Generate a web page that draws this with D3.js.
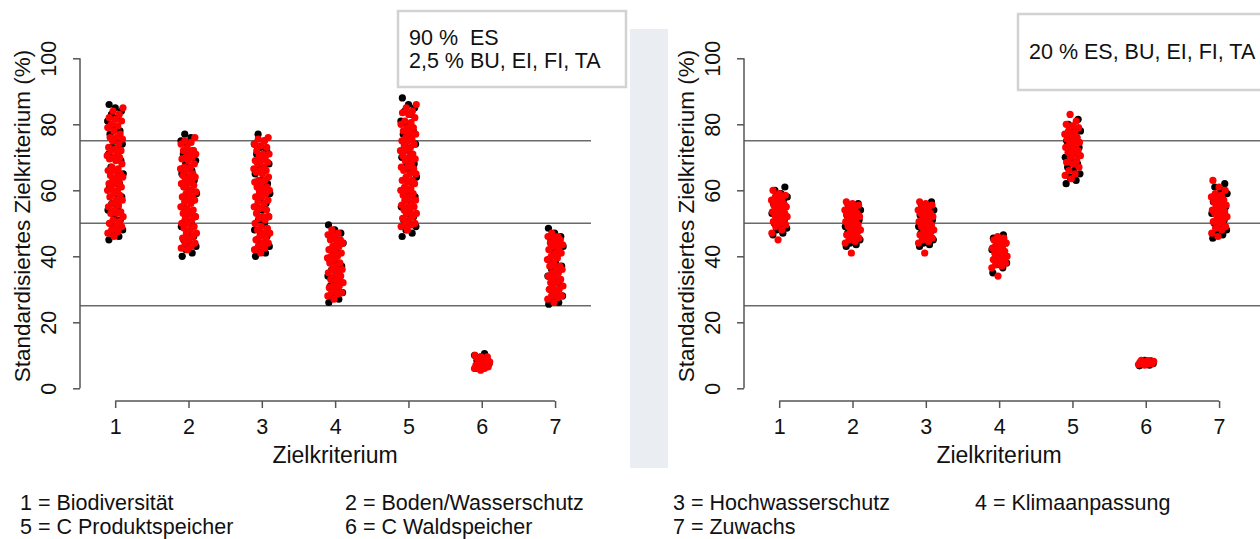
<!DOCTYPE html>
<html>
<head>
<meta charset="utf-8">
<script src="https://cdn.jsdelivr.net/npm/d3@7"></script>
<style>
  body { margin: 0; background: #fff; }
  svg { display: block; font-family: "Liberation Sans", Arial, sans-serif; }
</style>
</head>
<body>
<div id="chart"></div>
<script>
// categories and labels
var categories = [1, 2, 3, 4, 5, 6, 7];
var yTicks = [0, 20, 40, 60, 80, 100];
var refLines = [25, 50, 75];
var legendLeft = ["90 %  ES", "2,5 % BU, EI, FI, TA"];
var legendRight = ["20 % ES, BU, EI, FI, TA"];
var bottomLabels = ["1 = Biodiversität", "2 = Boden/Wasserschutz", "3 = Hochwasserschutz", "4 = Klimaanpassung",
                    "5 = C Produktspeicher", "6 = C Waldspeicher", "7 = Zuwachs"];

// values, one array per Zielkriterium
var leftBlack = [
  [86, 45, 72, 58, 81, 50, 65, 77, 47, 69, 54, 84, 61, 74, 48, 79, 56, 67, 83, 52, 63, 71, 46, 75, 59, 82, 66, 51, 78, 55, 70, 62, 85, 49, 73],
  [77, 41, 63, 52, 70, 46, 58, 74, 43, 66, 55, 40, 68, 49, 61, 75, 44, 57, 72, 50, 64, 42, 69, 53, 60, 76, 47, 65, 51, 71, 45, 59],
  [77, 40, 62, 51, 71, 45, 57, 75, 42, 65, 54, 68, 48, 60, 73, 43, 56, 70, 47, 63, 41, 67, 52, 74, 59, 46, 66, 50, 72, 44, 61, 55],
  [49.5, 26, 38, 31, 44, 28, 35, 47, 33, 41, 27, 37, 45, 30, 42, 34, 48, 29, 39, 36, 46, 32],
  [88, 47, 70, 58, 84, 52, 66, 78, 49, 62, 86, 55, 73, 46, 81, 60, 68, 50, 76, 64, 85, 53, 71, 57, 80, 48, 67, 74, 59, 83, 51, 63, 77, 56, 69],
  [10.5, 6, 8, 9.5, 7, 6.5, 9, 7.5, 10, 8.5],
  [48.5, 26, 37, 31, 44, 28, 35, 46, 33, 41, 25.5, 39, 43, 30, 47, 34, 38, 27, 45, 36, 42, 29]
];
var leftRed = [
  [84, 62, 71, 49, 77, 55, 80, 66, 47, 58, 74, 52, 69, 82, 60, 50, 76, 64, 57, 72, 48, 79, 61, 67, 53, 85, 70, 56, 63, 75, 51, 81, 59, 68, 46, 73, 65, 54, 78, 62, 83, 57, 70, 49, 66, 76, 60, 53, 72, 64,
   58.5, 66.5, 72.5, 50.5, 79.5, 62.5, 55.5, 69.5, 47.5, 75.5, 64.5, 53.5, 81.5, 60.5, 70.5],
  [75, 58, 44, 67, 51, 72, 62, 47, 70, 55, 43, 64, 74, 49, 60, 68, 53, 45, 73, 57, 66, 42, 61, 50, 71, 56, 46, 69, 63, 52, 76, 59, 48, 65, 54, 72, 44, 62, 67, 50, 58, 70, 47, 64, 53,
   45.5, 63.5, 56.5, 69.5, 51.5, 74.5, 59.5, 48.5, 66.5, 42.5, 61.5, 71.5, 54.5, 64.5, 57.5],
  [76, 61, 45, 69, 53, 73, 58, 43, 66, 50, 71, 63, 47, 56, 74, 41, 68, 52, 60, 44, 70, 55, 65, 48, 75, 59, 42, 67, 51, 62, 72, 46, 57, 64, 49, 69, 54, 61, 44, 66, 71, 58, 52, 47, 63,
   42.5, 60.5, 70.5, 54.5, 65.5, 48.5, 73.5, 56.5, 62.5, 45.5, 68.5, 51.5, 75.5, 59.5, 66.5],
  [48, 33, 40, 29, 45, 36, 31, 43, 38, 27, 46, 34, 41, 30, 37, 44, 28, 39, 35, 47, 32, 42, 36, 29, 45, 38, 31, 43, 34, 40,
   30.5, 41.5, 35.5, 46.5, 32.5, 39.5, 44.5, 28.5],
  [86, 63, 72, 50, 79, 57, 83, 67, 53, 75, 60, 48, 70, 81, 55, 65, 77, 51, 62, 84, 58, 73, 49, 68, 80, 54, 64, 76, 52, 71, 59, 85, 66, 56, 78, 61, 74, 50, 69, 82, 57, 63, 75, 53, 67, 79, 60, 72, 55, 65,
   51.5, 69.5, 58.5, 77.5, 62.5, 83.5, 55.5, 73.5, 49.5, 66.5, 80.5, 60.5, 70.5, 53.5, 75.5],
  [8, 6, 9.5, 7, 5.5, 8.5, 10, 6.5, 7.5, 9, 6, 8, 7, 9.5, 6.5],
  [47, 32, 39, 28, 44, 35, 41, 30, 37, 45, 26, 33, 42, 29, 38, 46, 31, 36, 43, 27, 40, 34, 44, 30, 37, 41, 28, 35, 46, 32,
   30.5, 42.5, 36.5, 45.5, 27.5, 39.5, 33.5, 43.5]
];
var rightBlack = [
  [61, 47, 53, 57, 50, 59, 48, 55, 52, 60, 46.5, 54, 58, 49, 56, 51, 53.5, 57.5, 48.5, 55.5],
  [56, 43, 50, 53, 46, 55, 48, 52, 44, 54, 49, 51, 45, 47, 53.5, 50.5, 43.5, 55.5, 47.5, 52.5],
  [56.5, 43, 49, 53, 46, 55, 48, 52, 44, 54, 50, 51, 45, 47, 53.5, 49.5, 43.5, 55.5, 47.5, 52.5],
  [46.5, 35, 41, 38, 44, 36.5, 42, 39, 45, 37.5, 43, 40, 45.5, 38.5, 42.5],
  [81.5, 62, 70, 75, 66, 79, 68, 73, 64, 77, 71, 63, 74, 67, 80, 69, 76, 65, 72, 78],
  [7, 8.5, 7.5, 8, 6.8, 8.3, 7.3, 7.8],
  [62, 45.5, 53, 58, 49, 60, 51, 56, 47, 55, 59, 52, 46.5, 57, 50, 54, 61, 48, 53.5, 56.5]
];
var rightRed = [
  [60, 52, 55, 49, 57, 53, 47, 58, 51, 56, 54, 50, 59, 52.5, 48, 55.5, 53.5, 57.5, 51.5, 45, 56.5, 54.5, 49.5, 58.5, 50.5, 53, 55, 52],
  [56.5, 49, 52, 45, 54, 47, 51, 55, 44, 50, 53, 46, 56, 48, 52.5, 41, 54.5, 49.5, 51.5, 45.5, 55.5, 47.5, 53.5, 50.5, 44.5, 52, 48.5, 46.5],
  [56.5, 50, 53, 46, 55, 48, 52, 44.5, 54, 49, 51, 47, 56, 45, 53.5, 41, 50.5, 54.5, 47.5, 52.5, 45.5, 55.5, 49.5, 51.5, 46.5, 53, 48.5, 44],
  [46, 40, 42, 37, 44, 39, 41, 43, 38, 45, 36.5, 40.5, 42.5, 34, 44.5, 39.5, 41.5, 37.5, 43.5, 38.5, 45.5, 40],
  [83, 72, 76, 68, 79, 65, 74, 70, 78, 66, 73, 80, 69, 75, 63.5, 77, 71, 81, 67, 74.5, 72.5, 76.5, 64.5, 79.5, 70.5, 75.5, 68.5, 73.5, 77.5, 71.5],
  [7.5, 8, 7, 8.5, 7.5, 8, 7.2, 7.8, 8.2, 7.4, 7.9, 8.4],
  [63, 54, 57, 50, 59, 52, 48, 56, 53, 60, 47, 55, 51, 58, 49, 61, 54.5, 46, 57.5, 52.5, 55.5, 50.5, 58.5, 53.5, 48.5, 56.5, 51.5, 54]
];

var svgWidth = 1260;
var svgHeight = 539;

var svg = d3.select("#chart")
  .append("svg")
  .attr("width", svgWidth)
  .attr("height", svgHeight);

// grey separator band between the two panels
svg.append("rect")
  .attr("x", 630).attr("y", 29)
  .attr("width", 38).attr("height", 439)
  .attr("fill", "#eaedf2");

var yScale = d3.scaleLinear().domain([0, 100]).range([388.3, 58.3]);

// deterministic spread inside a strip (stripchart "jitter"), by rank of the value
function jit(rank, seed) {
  return ((rank * 0.6180339 + seed) % 1) - 0.5;
}

function drawPanel(left, black, red, legend) {
  var xScale = d3.scaleLinear().domain([0.52, 7.49]).range([left, left + 511]);
  var g = svg.append("g");

  // reference lines
  g.selectAll("line.ref")
    .data(refLines)
    .enter()
    .append("line")
    .attr("x1", left).attr("x2", left === 80 ? left + 511 : svgWidth)
    .attr("y1", d => yScale(d)).attr("y2", d => yScale(d))
    .attr("stroke", "#6a6a6a")
    .attr("stroke-width", 1.6);

  // points: black first, red on top
  [[black, "#000", 0.11], [red, "#ff0000", 0.43]].forEach(function(s) {
    var pts = [];
    s[0].forEach(function(vals, ci) {
      var order = d3.range(vals.length).sort((a, b) => vals[a] - vals[b]);
      order.forEach(function(idx, rank) {
        pts.push({cat: categories[ci], v: vals[idx], j: jit(rank, s[2])});
      });
    });
    g.append("g")
      .selectAll("circle")
      .data(pts)
      .enter()
      .append("circle")
      .attr("cx", d => xScale(d.cat + d.j * 0.22))
      .attr("cy", d => yScale(d.v))
      .attr("r", 3.6)
      .attr("fill", s[1]);
  });

  // y axis
  var leftAxis = d3.axisLeft(yScale).tickValues(yTicks).tickSize(7).tickPadding(0).tickFormat(d3.format("d"));
  var ya = g.append("g")
    .attr("transform", `translate(${left}, 0)`)
    .call(leftAxis);
  ya.select(".domain").attr("stroke", "#555").attr("stroke-width", 1.5).attr("d", `M0,${yScale(0)}V${yScale(100)}`);
  ya.selectAll(".tick line").attr("stroke", "#555").attr("stroke-width", 1.5);
  ya.selectAll(".tick text")
    .attr("x", null).attr("dy", null)
    .attr("transform", "translate(-31,0) rotate(-90)")
    .attr("text-anchor", "middle")
    .attr("dominant-baseline", "central")
    .attr("font-size", "21.5px")
    .attr("font-family", "Liberation Sans, Arial, sans-serif")
    .attr("fill", "#111");

  // x axis
  var bottomAxis = d3.axisBottom(xScale).tickValues(categories).tickSize(7).tickPadding(11).tickFormat(d3.format("d"));
  var xa = g.append("g")
    .attr("transform", "translate(0, 401)")
    .call(bottomAxis);
  xa.select(".domain").attr("stroke", "#555").attr("stroke-width", 1.5).attr("d", `M${xScale(1)},0H${xScale(7)}`);
  xa.selectAll(".tick line").attr("stroke", "#555").attr("stroke-width", 1.5);
  xa.selectAll(".tick text")
    .attr("font-size", "21.5px")
    .attr("font-family", "Liberation Sans, Arial, sans-serif")
    .attr("fill", "#111");

  // axis labels
  g.append("text")
    .attr("x", left + 255).attr("y", 463)
    .attr("text-anchor", "middle")
    .attr("font-size", "23px")
    .attr("fill", "#111")
    .text("Zielkriterium");

  g.append("text")
    .attr("transform", `translate(${left - 58}, 216) rotate(-90)`)
    .attr("text-anchor", "middle")
    .attr("dominant-baseline", "central")
    .attr("font-size", "22.5px")
    .attr("fill", "#111")
    .text("Standardisiertes Zielkriterium (%)");

  // legend box
  var box = legend.length === 2 ? {x: 398, y: 11, w: 228, h: 76} : {x: 1018, y: 14, w: 260, h: 76};
  g.append("rect")
    .attr("x", box.x).attr("y", box.y)
    .attr("width", box.w).attr("height", box.h)
    .attr("fill", "#fff")
    .attr("stroke", "#d2d2d2")
    .attr("stroke-width", 2.5);
  g.selectAll("text.leg")
    .data(legend)
    .enter()
    .append("text")
    .attr("class", "leg")
    .attr("x", box.x + 11)
    .attr("y", (d, i) => legend.length === 2 ? box.y + 34 + i * 23 : box.y + 45)
    .attr("font-size", "21.5px")
    .attr("fill", "#111")
    .style("white-space", "pre")
    .text(d => d);
}

drawPanel(80, leftBlack, leftRed, legendLeft);
drawPanel(744, rightBlack, rightRed, legendRight);

// bottom key
var colX = [20, 345, 673, 975];
svg.append("g")
  .selectAll("text")
  .data(bottomLabels)
  .enter()
  .append("text")
  .attr("x", (d, i) => colX[i % 4])
  .attr("y", (d, i) => i < 4 ? 510 : 534)
  .attr("font-size", "21.5px")
  .attr("fill", "#111")
  .text(d => d);
</script>
</body>
</html>
